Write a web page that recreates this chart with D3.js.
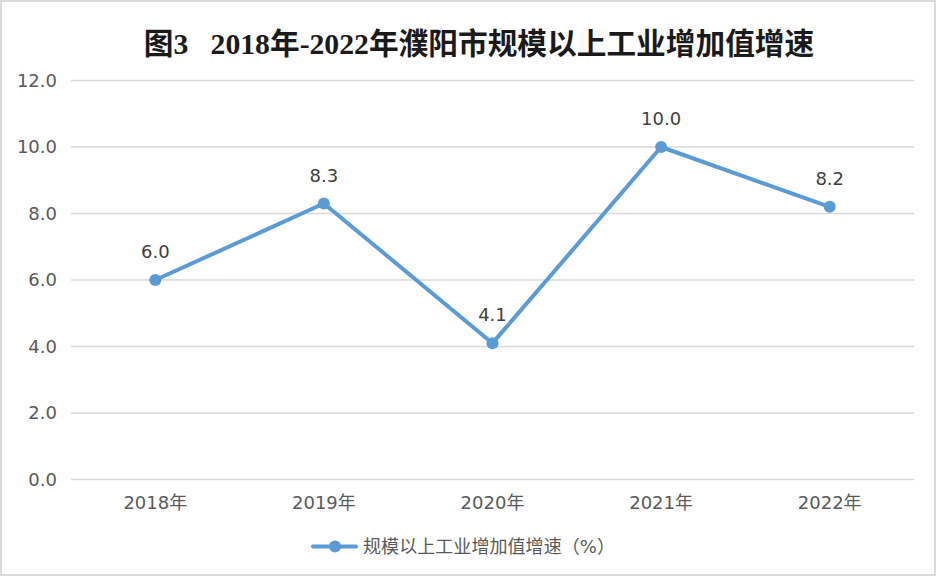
<!DOCTYPE html>
<html>
<head>
<meta charset="utf-8">
<script src="https://cdn.jsdelivr.net/npm/d3@7"></script>
<style>
  html, body { margin: 0; padding: 0; background: #fff; }
  svg { display: block; }
</style>
</head>
<body>
<svg id="chart" width="938" height="578"></svg>
<script>
const titleText = "图3\u00a0\u00a0\u00a02018年-2022年濮阳市规模以上工业增加值增速";
const categories = ["2018年", "2019年", "2020年", "2021年", "2022年"];
const values = [6.0, 8.3, 4.1, 10.0, 8.2];
const yTicks = [0, 2, 4, 6, 8, 10, 12];
const seriesName = "规模以上工业增加值增速（%）";

const svg = d3.select("#chart");
const W = 938, H = 578;
const color = "#5b9bd5";
const font = "'DejaVu Sans', 'Noto Sans CJK SC', sans-serif";

// outer border
svg.append("rect").attr("x", 1).attr("y", 1).attr("width", W - 4).attr("height", H - 4)
  .attr("fill", "#fff").attr("stroke", "#d9d9d9").attr("stroke-width", 2);

const x = d3.scaleBand().domain(categories).range([71, 914]).padding(0);
const y = d3.scaleLinear().domain([0, 12]).range([479.5, 80.5]);

// title
svg.append("text")
  .attr("x", 479).attr("y", 54)
  .attr("text-anchor", "middle")
  .attr("font-family", "'Liberation Serif', 'Noto Sans CJK SC', serif")
  .attr("font-weight", "bold")
  .attr("font-size", 29.7)
  .attr("fill", "#1a1a1a")
  .text(titleText);

// gridlines
svg.append("g").selectAll("line").data(yTicks).join("line")
  .attr("x1", 71).attr("x2", 914)
  .attr("y1", d => y(d)).attr("y2", d => y(d))
  .attr("stroke", "#d9d9d9").attr("stroke-width", 1.5);

// y axis labels
const yAxis = d3.axisLeft(y).tickValues(yTicks).tickFormat(d3.format(".1f")).tickSize(0).tickPadding(0);
const gy = svg.append("g").attr("transform", "translate(57,0)").call(yAxis);
gy.select(".domain").remove();
gy.selectAll("text").attr("font-family", font).attr("font-size", 18).attr("fill", "#595959");

// x axis labels
const xAxis = d3.axisBottom(x).tickSize(0).tickPadding(0);
const gx = svg.append("g").attr("transform", "translate(0,495)").call(xAxis);
gx.select(".domain").remove();
gx.selectAll("text").attr("font-family", font).attr("font-size", 18).attr("fill", "#595959").attr("dy", "0.8em");

const cx = d => x(d) + x.bandwidth() / 2;
const pts = categories.map((c, i) => ({ c, v: values[i] }));

// line
svg.append("path").datum(pts)
  .attr("fill", "none").attr("stroke", color).attr("stroke-width", 4)
  .attr("stroke-linejoin", "round").attr("stroke-linecap", "round")
  .attr("d", d3.line().x(d => cx(d.c)).y(d => y(d.v)));

// markers
svg.append("g").selectAll("circle").data(pts).join("circle")
  .attr("cx", d => cx(d.c)).attr("cy", d => y(d.v)).attr("r", 6)
  .attr("fill", color);

// data labels
svg.append("g").selectAll("text").data(pts).join("text")
  .attr("x", d => cx(d.c)).attr("y", d => y(d.v) - 22)
  .attr("text-anchor", "middle")
  .attr("font-family", font).attr("font-size", 18).attr("fill", "#404040")
  .text(d => d3.format(".1f")(d.v));

// legend
const lg = svg.append("g");
lg.append("line").attr("x1", 313).attr("x2", 356).attr("y1", 546.5).attr("y2", 546.5)
  .attr("stroke", color).attr("stroke-width", 4).attr("stroke-linecap", "round");
lg.append("circle").attr("cx", 335).attr("cy", 546.5).attr("r", 6).attr("fill", color);
lg.append("text").attr("x", 363).attr("y", 553)
  .attr("font-family", font).attr("font-size", 18).attr("fill", "#595959")
  .attr("textLength", 252).attr("lengthAdjust", "spacing")
  .text(seriesName);
</script>
</body>
</html>
